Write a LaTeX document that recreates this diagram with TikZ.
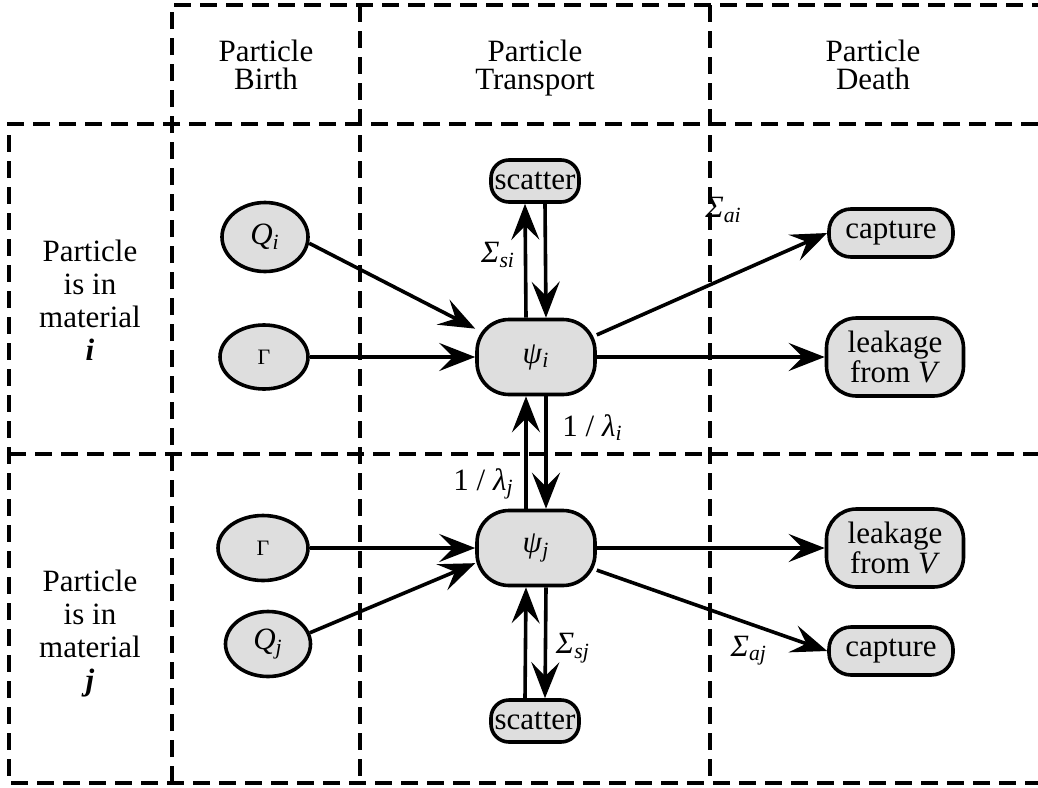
\documentclass[tikz,border=0pt]{standalone}
\usepackage{fontspec}
\setmainfont{Liberation Serif}
\usetikzlibrary{arrows.meta,shapes.geometric}

% italic symbol with italic subscript
\newcommand{\vsub}[2]{\textit{#1}\textsubscript{\textit{#2}}}

\tikzset{
  box/.style={draw, line width=1.8pt, fill=black!13, rounded corners=14pt, inner sep=0pt, align=center},
  src/.style={draw, line width=1.8pt, fill=black!13, ellipse, inner sep=0pt},
  arr/.style={line width=1.8pt, -{Stealth[length=18pt,width=14pt,inset=7pt]}},
  grid/.style={line width=1.7pt, dash pattern=on 8.5pt off 4.5pt},
  head/.style={align=center, anchor=north, inner sep=0pt, font=\fontsize{15.5}{14}\selectfont},
  rowhead/.style={align=center, anchor=north, inner sep=0pt, font=\fontsize{15.5}{16.5}\selectfont},
}

\begin{document}
\begin{tikzpicture}[x=0.5pt,y=-0.5pt,font=\fontsize{15.5}{15}\selectfont]
\useasboundingbox (0,0) rectangle (1038,787);

% dashed grid
\draw[grid] (172,783) -- (172,5) -- (1038,5);
\draw[grid] (360,5) -- (360,783);
\draw[grid] (710,5) -- (710,783);
\draw[grid] (1038,124) -- (9,124) -- (9,783) -- (1038,783);
\draw[grid] (9,454) -- (1038,454);

% column heads
\node[head] (hbirth) at (266,40) {Particle\\Birth};
\node[head] (htrans) at (535,40) {Particle\\Transport};
\node[head] (hdeath) at (873,40) {Particle\\Death};

% row heads
\node[rowhead] (rowi) at (90,240) {Particle\\is in\\material\\\textbf{\textit{i}}};
\node[rowhead] (rowj) at (90,570) {Particle\\is in\\material\\\textbf{\textit{j}}};

% material i
\node[src, minimum width=43pt, minimum height=34.5pt] (Qi) at (265,237) {\vsub{Q}{i}};
\node[src, minimum width=44pt, minimum height=32pt] (Gi) at (264,357) {\fontsize{11}{11}\selectfont Γ};
\node[box, minimum width=59pt, minimum height=37.5pt, rounded corners=16pt] (psii) at (536,357) {\vsub{ψ}{i}};
\node[box, minimum width=44pt, minimum height=21pt, rounded corners=9pt] (scati) at (535,181) {scatter};
\node[box, minimum width=62pt, minimum height=24pt, rounded corners=11pt] (capi) at (891,233) {capture};
\node[box, minimum width=68.5pt, minimum height=39pt, rounded corners=15pt] (leaki) at (895,357) {leakage\\from \textit{V}};

% material j
\node[src, minimum width=45pt, minimum height=32.5pt] (Gj) at (263,548) {\fontsize{11}{11}\selectfont Γ};
\node[src, minimum width=42.5pt, minimum height=32.5pt] (Qj) at (268,644) {\vsub{Q}{j}};
\node[box, minimum width=59pt, minimum height=37.5pt, rounded corners=16pt] (psij) at (536,548) {\vsub{ψ}{j}};
\node[box, minimum width=44pt, minimum height=21pt, rounded corners=9pt] (scatj) at (535,721) {scatter};
\node[box, minimum width=62pt, minimum height=24pt, rounded corners=11pt] (capj) at (891,651) {capture};
\node[box, minimum width=68.5pt, minimum height=39pt, rounded corners=15pt] (leakj) at (895,548) {leakage\\from \textit{V}};

% arrows, material i
\draw[arr] (Qi.-8) -- (psii.155);
\draw[arr] (Gi) -- (psii);
\draw[arr] ([xshift=-5pt]psii.north) -- ([xshift=-5pt]scati.south) node[pos=0.55, left=1pt] {\vsub{Σ}{si}};
\draw[arr] ([xshift=5pt]scati.south) -- ([xshift=5pt]psii.north);
\draw[arr] (psii.20) -- (capi.west) node[pos=0.55, above=24pt] {\vsub{Σ}{ai}};
\draw[arr] (psii) -- (leaki);

% arrows between materials
\draw[arr] ([xshift=5pt]psii.south) -- ([xshift=5pt]psij.north) node[pos=0.28, right=4pt] {1 / \vsub{λ}{i}};
\draw[arr] ([xshift=-5pt]psij.north) -- ([xshift=-5pt]psii.south) node[pos=0.22, left=2pt] {1 / \vsub{λ}{j}};

% arrows, material j
\draw[arr] (Gj) -- (psij);
\draw[arr] (Qj.15) -- (psij.194);
\draw[arr] ([xshift=5pt]psij.south) -- ([xshift=5pt]scatj.north) node[pos=0.55, right=1pt] {\vsub{Σ}{sj}};
\draw[arr] ([xshift=-5pt]scatj.north) -- ([xshift=-5pt]psij.south);
\draw[arr] (psij.-20) -- (capj.west) node[pos=0.66, below=2pt] {\vsub{Σ}{aj}};
\draw[arr] (psij) -- (leakj);
\end{tikzpicture}
\end{document}
